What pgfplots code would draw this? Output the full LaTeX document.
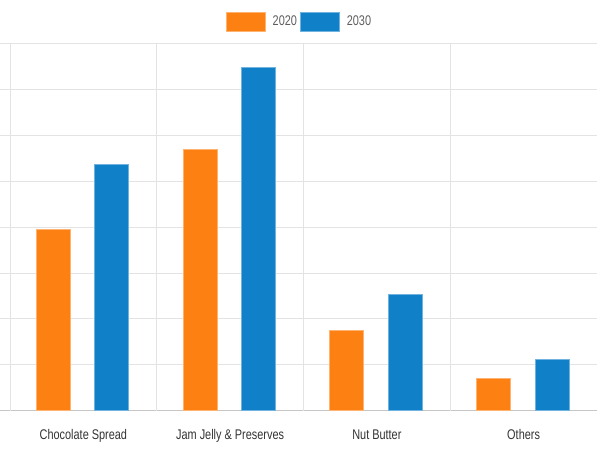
\documentclass[border=0pt]{standalone}
\usepackage{fontspec}
\setmainfont{Liberation Sans}[FakeStretch=0.78]
\usepackage{pgfplots}
\pgfplotsset{compat=1.18}
\definecolor{cOrange}{HTML}{FD8112}
\definecolor{cBlue}{HTML}{1080C8}
\definecolor{cGrid}{HTML}{E3E3E3}
\definecolor{cBase}{HTML}{C6C6C6}
\definecolor{cLabel}{HTML}{333333}
\definecolor{cLegend}{HTML}{5E5E5E}
\begin{document}
\begin{tikzpicture}[x=1pt,y=1pt]
\useasboundingbox (0,0) rectangle (600,452);
\begin{axis}[
  at={(10pt,41.3pt)}, anchor=south west,
  scale only axis, width=587pt, height=367.4pt,
  xmin=-0.5, xmax=3.5, ymin=0, ymax=8,
  xtick={0,1,2,3},
  xticklabels={Chocolate Spread,Jam Jelly \& Preserves,Nut Butter,Others},
  xtick style={draw=none},
  xticklabel style={anchor=base, yshift=-18.5pt, font=\fontsize{14}{16}\selectfont, text=cLabel},
  extra x ticks={-0.5,0.5,1.5,2.5},
  extra x tick labels={},
  extra x tick style={grid=major, major tick length=12.5pt, tick align=outside,
     tick style={draw=cGrid, line width=0.8pt}, major grid style={draw=cGrid, line width=0.8pt}},
  ytick={0,1,...,8}, yticklabels={},
  ymajorgrids, major grid style={draw=cGrid, line width=0.8pt},
  ytick style={draw=cGrid, line width=0.8pt},
  major tick length=10pt, tick align=outside,
  axis x line*=bottom, axis y line*=left,
  x axis line style={draw=cBase, line width=1.5pt, -, shorten <=-10pt},
  y axis line style={draw=none},
  ybar, bar width=34pt,
  legend columns=2,
  legend style={at={(0.5,1.0593)}, anchor=center, xshift=-5pt, draw=none, fill=none,
     font=\fontsize{14}{16}\selectfont, text=cLegend,
     /tikz/every even column/.append style={column sep=3pt},
     /tikz/every odd column/.append style={column sep=7pt},
     nodes={inner sep=0pt}},
  legend image code/.code={\fill[#1] (0pt,-9.5pt) rectangle (39pt,9.5pt);},
]
\addplot[fill=cOrange, draw=cOrange!60!white, line width=0.8pt, bar shift=-30pt]
  coordinates {(0,3.94) (1,5.69) (2,1.75) (3,0.71)};
\addlegendentry{2020}
\addplot[fill=cBlue, draw=cBlue!60!white, line width=0.8pt, bar shift=28.5pt]
  coordinates {(0,5.37) (1,7.47) (2,2.54) (3,1.12)};
\addlegendentry{2030}
\end{axis}
\end{tikzpicture}
\end{document}
